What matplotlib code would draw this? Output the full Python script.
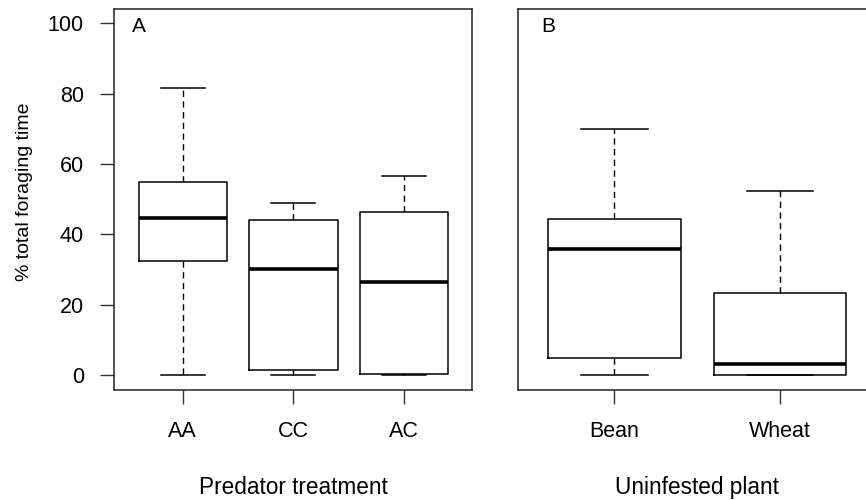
import matplotlib
matplotlib.use("Agg")
import matplotlib.pyplot as plt

plt.rcParams['font.family'] = ['Liberation Sans', 'DejaVu Sans']

# panel A: predator treatment
pred_labels = ["AA", "CC", "AC"]
pred_whislo = [0.0, 0.0, 0.0]
pred_q1 = [32.5, 1.4, 0.5]
pred_med = [44.8, 30.2, 26.4]
pred_q3 = [54.9, 44.2, 46.3]
pred_whishi = [81.6, 49.0, 56.7]

# panel B: uninfested plant
plant_labels = ["Bean", "Wheat"]
plant_whislo = [0.0, 0.0]
plant_q1 = [4.8, 0.0]
plant_med = [36.0, 3.3]
plant_q3 = [44.4, 23.3]
plant_whishi = [70.0, 52.4]

yticks = [0, 20, 40, 60, 80, 100]


def make_stats(labels, lo, q1, med, q3, hi):
    out = []
    for i in range(len(labels)):
        out.append(dict(label=labels[i], whislo=lo[i], q1=q1[i], med=med[i],
                        q3=q3[i], whishi=hi[i], fliers=[]))
    return out


def draw(ax, stats, xlabel, letter, letter_x):
    n = len(stats)
    ax.bxp(stats, positions=range(1, n + 1), widths=0.8, showfliers=False,
           capwidths=0.4,
           boxprops=dict(color='black', linewidth=1.1),
           medianprops=dict(color='black', linewidth=2.6, solid_capstyle='butt'),
           whiskerprops=dict(color='black', linewidth=1.0, linestyle=(0, (4.5, 3.2))),
           capprops=dict(color='black', linewidth=1.1))
    ax.set_xlim(0.5 - 0.04 * n, n + 0.5 + 0.04 * n)
    ax.set_ylim(-4, 104)
    for s in ax.spines.values():
        s.set_linewidth(1.1)
        s.set_color('#222222')
    ax.tick_params(axis='both', length=10, width=1.0, labelsize=15.5, color='#333333')
    ax.tick_params(axis='x', pad=13)
    ax.tick_params(axis='y', pad=12)
    ax.set_xlabel(xlabel, fontsize=16.3, labelpad=24.5)
    ax.text(letter_x, 0.94, letter, transform=ax.transAxes, fontsize=15,
            va='baseline', ha='left')


fig = plt.figure(figsize=(8.66, 5.0), dpi=100)
axA = fig.add_axes([0.132, 0.221, 0.4134, 0.761])
axB = fig.add_axes([0.5985, 0.221, 0.4134, 0.761])

draw(axA, make_stats(pred_labels, pred_whislo, pred_q1, pred_med, pred_q3, pred_whishi),
     "Predator treatment", "A", 0.049)
draw(axB, make_stats(plant_labels, plant_whislo, plant_q1, plant_med, plant_q3, plant_whishi),
     "Uninfested plant", "B", 0.065)

axA.set_yticks(yticks)
axA.set_ylabel("% total foraging time", fontsize=14)
axA.yaxis.set_label_coords(-0.228, 0.52)
axB.set_yticks([])

fig.savefig("out.png", dpi=100)
